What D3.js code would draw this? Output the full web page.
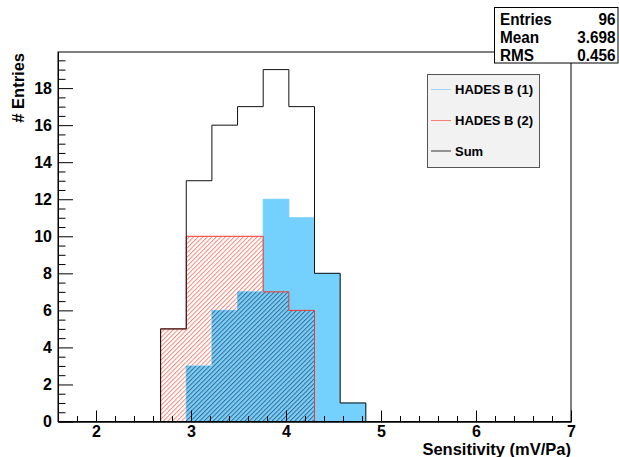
<!DOCTYPE html>
<html><head><meta charset="utf-8">
<script src="https://cdn.jsdelivr.net/npm/d3@7"></script>
<style>
body{margin:0;background:#fff;}
svg{display:block;}
text{font-family:"Liberation Sans",Arial,Helvetica,sans-serif;font-weight:bold;fill:#000;}
</style>
</head><body>
<svg id="c" width="619" height="457"></svg>
<script>
// ---- data ----
const binLow = [2.68, 2.95, 3.22, 3.49, 3.76, 4.03, 4.30, 4.57];
const binWidth = 0.27;
const hadesB1 = [0, 3, 6, 7, 12, 11, 8, 1];
const hadesB2 = [5, 10, 10, 10, 7, 6, 0, 0];
const sumValues = [5, 13, 16, 17, 19, 17, 8, 1];
const xTicks = [2, 3, 4, 5, 6, 7];
const yTicks = [0, 2, 4, 6, 8, 10, 12, 14, 16, 18];
const legendNames = ["HADES B (1)", "HADES B (2)", "Sum"];
const statNames = ["Entries", "Mean", "RMS"];
const statValues = ["96", "3.698", "0.456"];
const xDomain = [1.6, 7];
const yDomain = [0, 19.95];

// ---- layout ----
const svg = d3.select("#c");
const L = 58, R = 571, T = 52, B = 421.5;
const x = d3.scaleLinear().domain(xDomain).range([L, R]);
const y = d3.scaleLinear().domain(yDomain).range([B, T]);

const blue = "#74d0fc", red = "#ee3b2a";

const defs = svg.append("defs");
function hatch(id, color, op) {
  const p = defs.append("pattern").attr("id", id).attr("patternUnits", "userSpaceOnUse")
    .attr("width", 3.2).attr("height", 10).attr("patternTransform", "rotate(45)");
  p.append("line").attr("x1", 0.5).attr("y1", 0).attr("x2", 0.5).attr("y2", 10)
    .attr("stroke", color).attr("stroke-width", 0.9).attr("stroke-opacity", op);
}
hatch("hRed", "#f25a46", 0.8);
hatch("hDark", "#2f3f5e", 0.8);

function stepPath(vals) {
  const p = d3.path();
  p.moveTo(x(binLow[0]), y(0));
  vals.forEach((v, i) => {
    p.lineTo(x(binLow[i]), y(v));
    p.lineTo(x(binLow[i] + binWidth), y(v));
  });
  p.lineTo(x(binLow[binLow.length - 1] + binWidth), y(0));
  p.closePath();
  return p.toString();
}
const overlap = hadesB1.map((v, i) => d3.min([v, hadesB2[i]]));

svg.append("path").attr("d", stepPath(hadesB2)).attr("fill", "url(#hRed)").attr("stroke", "none");
svg.append("path").attr("d", stepPath(hadesB1)).attr("fill", blue).attr("stroke", blue).attr("stroke-width", 1);
svg.append("path").attr("d", stepPath(overlap)).attr("fill", "url(#hDark)").attr("stroke", "none");
svg.append("path").attr("d", stepPath(hadesB2)).attr("fill", "none").attr("stroke", red).attr("stroke-width", 1);
svg.append("path").attr("d", stepPath(sumValues)).attr("fill", "none").attr("stroke", "#111").attr("stroke-width", 1);

// frame
svg.append("rect").attr("x", L).attr("y", T).attr("width", R - L).attr("height", B - T)
  .attr("fill", "none").attr("stroke", "#000").attr("stroke-width", 1);

// x axis
const xMinor = d3.range(16, 71, 2).map(d => d / 10).filter(d => !xTicks.includes(d));
const gx = svg.append("g").attr("transform", `translate(0,${B})`);
gx.call(d3.axisBottom(x).tickValues(xTicks).tickSizeInner(-11).tickSizeOuter(0).tickPadding(4).tickFormat(d3.format("d")));
gx.append("g").call(d3.axisBottom(x).tickValues(xMinor).tickSizeInner(-5.5).tickSizeOuter(0).tickFormat(""));
gx.selectAll("text").style("font-size", "16px");
// y axis
const yMinor = d3.range(0, 20, 0.5).filter(d => d % 2 !== 0);
const gy = svg.append("g").attr("transform", `translate(${L},0)`);
gy.call(d3.axisLeft(y).tickValues(yTicks).tickSizeInner(-15).tickSizeOuter(0).tickPadding(6).tickFormat(d3.format("d")));
gy.append("g").call(d3.axisLeft(y).tickValues(yMinor).tickSizeInner(-7.5).tickSizeOuter(0).tickFormat(""));
gy.selectAll("text").style("font-size", "16px");
svg.selectAll(".domain").attr("stroke", "#000");
svg.selectAll(".tick line").attr("stroke", "#000");

// axis titles
svg.append("text").attr("x", R).attr("y", 455).attr("text-anchor", "end")
  .style("font-size", "16.5px").text("Sensitivity (mV/Pa)");
svg.append("text").attr("transform", `translate(24,${T + 1}) rotate(-90)`).attr("text-anchor", "end")
  .style("font-size", "16.5px").text("# Entries");

// legend
const lg = svg.append("g");
lg.append("rect").attr("x", 427.5).attr("y", 74.5).attr("width", 112).attr("height", 93)
  .attr("fill", "#f2f2f2").attr("stroke", "#555").attr("stroke-width", 1);
const legColors = ["#9fd6f5", "#f08070", "#333"];
const legY = [89.5, 120.5, 151];
legendNames.forEach((n, i) => {
  lg.append("line").attr("x1", 431).attr("x2", 451).attr("y1", legY[i]).attr("y2", legY[i])
    .attr("stroke", legColors[i]).attr("stroke-width", 1);
  lg.append("text").attr("x", 455).attr("y", legY[i] + 4.8).style("font-size", "13px").text(n);
});

// stats box
const sb = svg.append("g");
sb.append("rect").attr("x", 494.5).attr("y", 7.5).attr("width", 123.5).attr("height", 55.5)
  .attr("fill", "#fff").attr("stroke", "#000").attr("stroke-width", 1);
const statY = [25, 43, 60.5];
statNames.forEach((n, i) => {
  sb.append("text").attr("transform", `translate(500,${statY[i]}) scale(0.9,1)`)
    .style("font-size", "17px").text(n);
  sb.append("text").attr("transform", `translate(615.5,${statY[i]}) scale(0.9,1)`)
    .attr("text-anchor", "end").style("font-size", "17px").text(statValues[i]);
});
</script>
</body></html>
